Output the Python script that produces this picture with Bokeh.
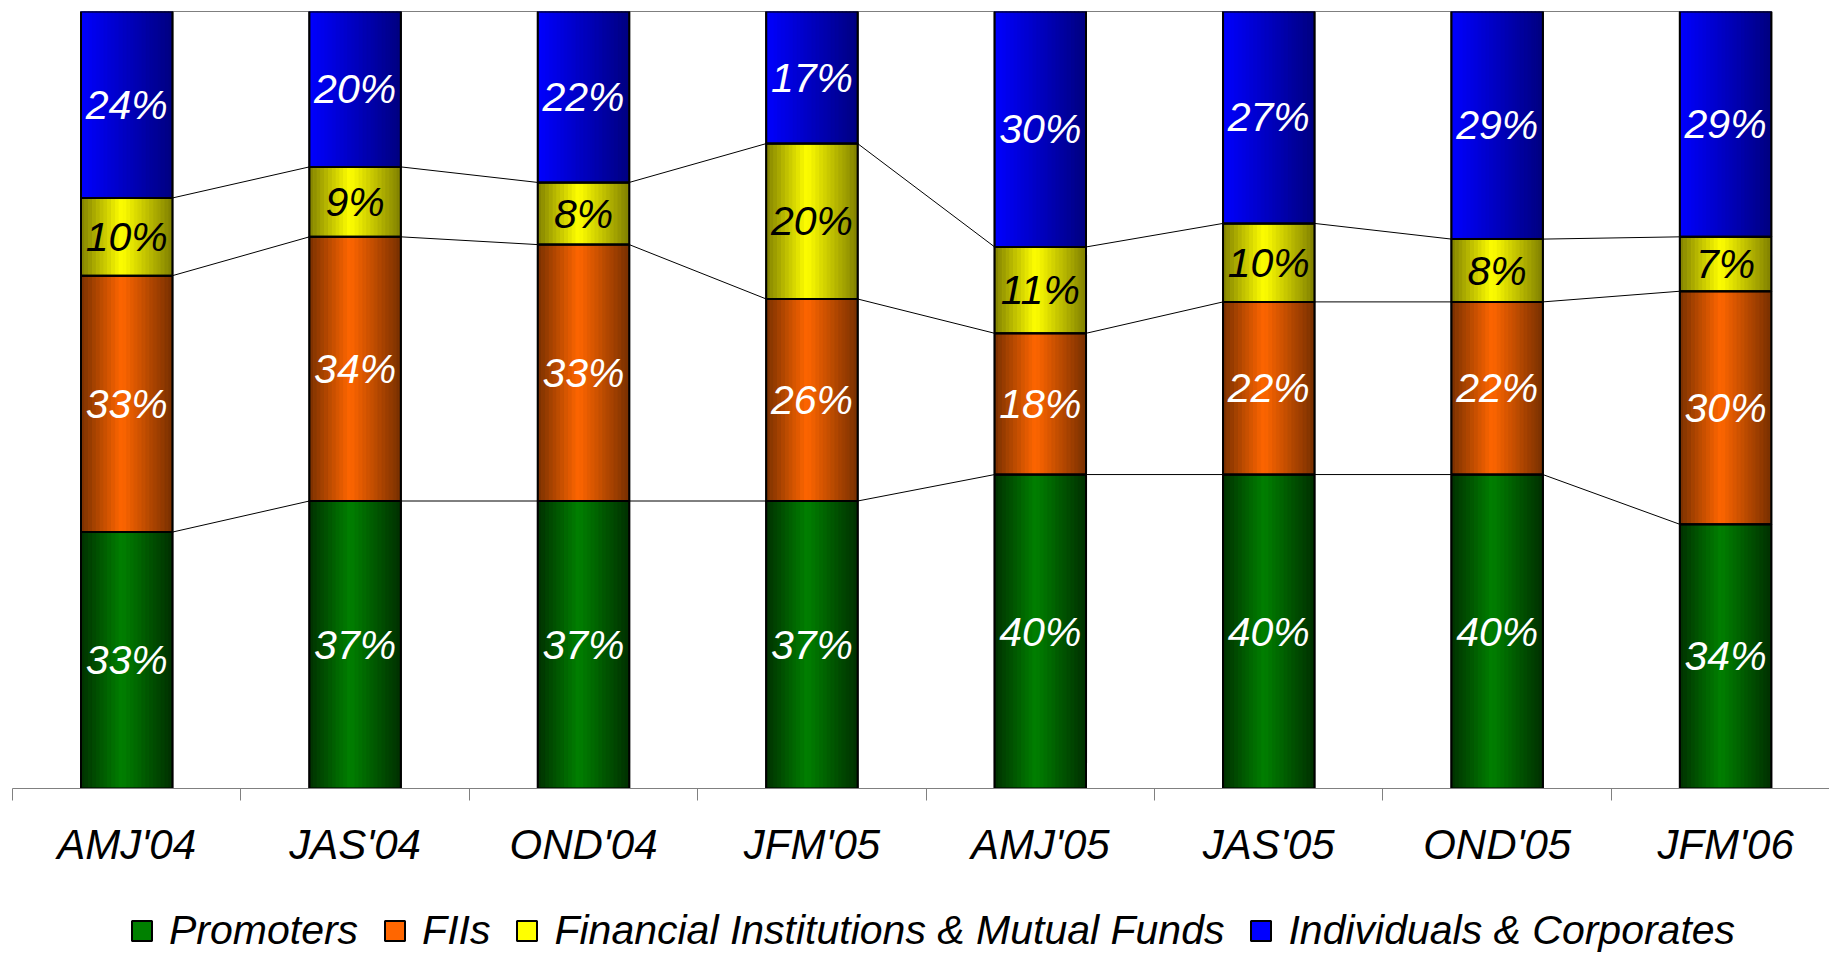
import numpy as np
from bokeh.plotting import figure
from bokeh.layouts import column
from bokeh.models import Range1d, FixedTicker, Legend, LegendItem, ColumnDataSource
from bokeh.core.properties import value
from bokeh.embed import file_html
from bokeh.resources import INLINE

# ---------------- data ----------------
quarters = ["AMJ'04", "JAS'04", "OND'04", "JFM'05", "AMJ'05", "JAS'05", "OND'05", "JFM'06"]
promoters = [33, 37, 37, 37, 40, 40, 40, 34]
fiis = [33, 34, 33, 26, 18, 22, 22, 30]
fi_mf = [10, 9, 8, 20, 11, 10, 8, 7]
individuals = [24, 20, 22, 17, 30, 27, 29, 29]
series_names = ["Promoters", "FIIs", "Financial Institutions & Mutual Funds",
                "Individuals & Corporates"]

# ---------------- styles ----------------
FONT = "Liberation Sans"
# (edge colour, centre colour, mode)
grad = [
    ((0x00, 0x30, 0x00), (0x00, 0x80, 0x00), "center"),
    ((0x78, 0x30, 0x00), (0xFF, 0x66, 0x00), "center"),
    ((0x80, 0x80, 0x00), (0xFF, 0xFF, 0x00), "center"),
    ((0x00, 0x00, 0x80), (0x00, 0x00, 0xFF), "linear"),
]
label_colors = ["white", "white", "black", "white"]
mid_colors = ["#008000", "#FF6600", "#FFFF00", "#0000FF"]
BAR_W = 0.4
NSTRIP = 24

series = [promoters, fiis, fi_mf, individuals]
n = len(quarters)
totals = np.sum(np.array(series, dtype=float), axis=0)
fracs = [np.array(s, dtype=float) / totals for s in series]
cum = np.cumsum(np.array(fracs), axis=0)
bottoms = [np.zeros(n)] + [cum[k] for k in range(len(series) - 1)]
tops = [cum[k] for k in range(len(series))]

p = figure(width=1829, height=880, x_range=Range1d(-0.5, 7.455), y_range=Range1d(0, 1),
           output_backend="svg", toolbar_location=None, y_axis_location=None,
           min_border_left=12, min_border_right=0, min_border_top=11, min_border_bottom=92,
           outline_line_color=None, background_fill_color="white", border_fill_color="white")
p.grid.visible = False

xs = np.arange(n)


def strip_color(spec, t):
    edge, centre, mode = spec
    if mode == "linear":
        w = t  # bright on left, dark on right
        c = [centre[j] * (1 - w) + edge[j] * w for j in range(3)]
    else:
        peak = 0.45
        d = abs(t - peak) / (peak if t < peak else 1 - peak)
        c = [centre[j] * (1 - d) + edge[j] * d for j in range(3)]
    return "#%02x%02x%02x" % tuple(int(round(v)) for v in c)


for k in range(len(series)):
    p.vbar(x=xs, width=BAR_W, bottom=bottoms[k], top=tops[k],
           fill_color=mid_colors[k], line_color="black", line_width=2)
    # gradient strips
    sx, sb, st, sc = [], [], [], []
    for i in range(n):
        for j in range(NSTRIP):
            t = (j + 0.5) / NSTRIP
            sx.append(xs[i] - BAR_W / 2 + t * BAR_W)
            sb.append(bottoms[k][i])
            st.append(tops[k][i])
            sc.append(strip_color(grad[k], t))
    src = ColumnDataSource(dict(x=sx, bottom=sb, top=st, color=sc))
    p.vbar(x="x", width=BAR_W / NSTRIP, bottom="bottom", top="top", source=src,
           fill_color="color", line_color="color", line_width=0.8)

# outlines
for k in range(len(series)):
    p.vbar(x=xs, width=BAR_W, bottom=bottoms[k], top=tops[k],
           fill_color=None, line_color="black", line_width=2)

# series lines
for k in range(len(series)):
    p.segment(x0=xs[:-1] + BAR_W / 2, y0=tops[k][:-1], x1=xs[1:] - BAR_W / 2, y1=tops[k][1:],
              line_color="black", line_width=1)

# labels
for k in range(len(series)):
    mids = (bottoms[k] + tops[k]) / 2
    p.text(x=xs, y=mids, text=["%d%%" % v for v in series[k]],
           text_color=label_colors[k], text_align="center", text_baseline="middle",
           text_font=value(FONT), text_font_style="italic", text_font_size="41px")

# axis
ax = p.xaxis[0]
ax.ticker = FixedTicker(ticks=list(range(n)), minor_ticks=[i - 0.5 for i in range(n + 1)])
ax.major_label_overrides = {i: q for i, q in enumerate(quarters)}
ax.axis_line_color = "#808080"
ax.axis_line_width = 1
ax.major_tick_out = 0
ax.major_tick_in = 0
ax.minor_tick_out = 12
ax.minor_tick_in = 0
ax.minor_tick_line_color = "#808080"
ax.major_label_standoff = 20
ax.major_label_text_font = FONT
ax.major_label_text_font_style = "italic"
ax.major_label_text_font_size = "42px"
ax.major_label_text_color = "black"

# ---------------- legend strip ----------------
lg = figure(width=1829, height=74, x_range=Range1d(0, 1), y_range=Range1d(0, 1),
            output_backend="svg", toolbar_location=None, x_axis_location=None,
            y_axis_location=None, min_border=0, outline_line_color=None,
            background_fill_color="white", border_fill_color="white")
lg.grid.visible = False
legend_items = []
for k in range(len(series)):
    # proxy renderer with no drawable value (only its legend glyph is shown)
    r = lg.vbar(x=[0.5], width=0.1, top=[np.nan], bottom=[np.nan], fill_color=mid_colors[k],
                line_color="black", line_width=2)
    legend_items.append(LegendItem(label=series_names[k], renderers=[r]))

legend = Legend(items=legend_items, orientation="horizontal", location=(117, 0),
                label_text_font=FONT, label_text_font_style="italic",
                label_text_font_size="41px", label_text_color="black",
                glyph_width=25, glyph_height=25, label_standoff=15, spacing=24,
                label_height=25,
                border_line_alpha=0, background_fill_alpha=0, padding=0, margin=0)
lg.add_layout(legend, "center")

layout = column(p, lg, spacing=0)
open("out.html", "w").write(file_html(layout, INLINE))
